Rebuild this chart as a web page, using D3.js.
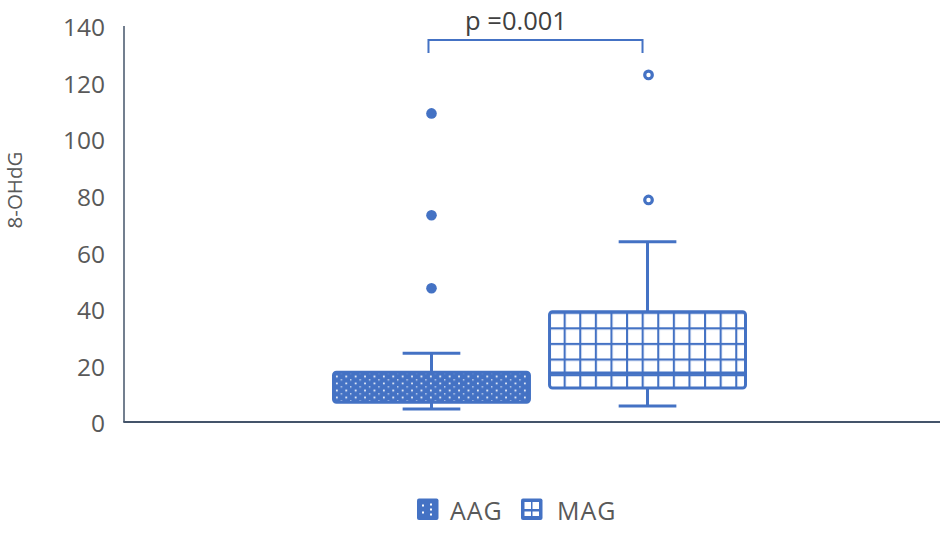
<!DOCTYPE html>
<html>
<head>
<meta charset="utf-8">
<script src="https://cdn.jsdelivr.net/npm/d3@7"></script>
<style>
  html, body { margin: 0; padding: 0; background: #fff; }
  svg { display: block; font-family: "Open Sans", "Noto Sans", sans-serif; }
</style>
</head>
<body>
<svg id="chart" width="945" height="535"></svg>
<script>
// ---- data ----
const categories = ["AAG", "MAG"];
const whiskerLow  = [4.6, 5.7];
const q1          = [7.0, 12.0];
const median      = [13.0, 17.3];
const q3          = [17.6, 39.0];
const whiskerHigh = [24.3, 63.7];
const outliers    = [[47.3, 73.1, 109.1], [78.5, 122.7]];
const yTicks      = [0, 20, 40, 60, 80, 100, 120, 140];
const yTitle      = "8-OHdG";
const pLabel      = "p =0.001";

// ---- layout ----
const W = 945, H = 535;
const blue = "#4472C4";
const axisColor = "#44546A";
const textColor = "#595959";

const svg = d3.select("#chart");
const defs = svg.append("defs");

const y = d3.scaleLinear().domain([0, 140]).range([422, 26]);
const x = d3.scaleBand().domain(categories).range([332, 747]).paddingInner(0.079).paddingOuter(0);
const bw = x.bandwidth();
const cx = c => x(c) + bw / 2;

// dotted pattern for AAG
const dots = defs.append("pattern").attr("id", "dots")
  .attr("patternUnits", "userSpaceOnUse").attr("width", 9.4).attr("height", 7)
  .attr("x", x("AAG") + 3).attr("y", y(q3[0]) + 2);
dots.append("rect").attr("width", 9.4).attr("height", 7).attr("fill", blue);
dots.append("rect").attr("x", 1).attr("y", 1.5).attr("width", 1.7).attr("height", 1.7).attr("fill", "#fff");
dots.append("rect").attr("x", 5.7).attr("y", 5).attr("width", 1.3).attr("height", 1.3).attr("fill", "#e8eefa");

// grid pattern for MAG
const gs = 15.6;
const grid = defs.append("pattern").attr("id", "grid")
  .attr("patternUnits", "userSpaceOnUse").attr("width", gs).attr("height", gs)
  .attr("x", x("MAG")).attr("y", y(q3[1]));
grid.append("rect").attr("width", gs).attr("height", gs).attr("fill", "#fff");
grid.append("path").attr("d", `M0,0H${gs}M0,0V${gs}`)
  .attr("stroke", blue).attr("stroke-width", 4.2).attr("fill", "none");

const patterns = ["url(#dots)", "url(#grid)"];

// ---- axes ----
svg.append("line").attr("x1", 124).attr("x2", 124).attr("y1", y(140)).attr("y2", y(0))
  .attr("stroke", axisColor).attr("stroke-width", 1.5);
svg.append("line").attr("x1", 123.3).attr("x2", 940).attr("y1", y(0)).attr("y2", y(0))
  .attr("stroke", axisColor).attr("stroke-width", 1.8);

const yAxis = d3.axisLeft(y).tickValues(yTicks).tickSize(0).tickPadding(0).tickFormat(d3.format("d"));
const yg = svg.append("g").attr("transform", "translate(105,2)").call(yAxis);
yg.select(".domain").remove();
yg.selectAll("text").attr("fill", textColor).attr("font-size", 24.5)
  .attr("font-family", "'Open Sans', 'Noto Sans', sans-serif");

svg.append("text").attr("transform", `translate(22,${190}) rotate(-90)`)
  .attr("text-anchor", "middle").attr("fill", textColor).attr("font-size", 20.5)
  .text(yTitle);

// ---- boxes ----
const g = svg.append("g");
categories.forEach((c, i) => {
  const xc = cx(c);
  const cap = bw * 0.145;
  // whiskers
  g.append("line").attr("x1", xc).attr("x2", xc).attr("y1", y(q3[i])).attr("y2", y(whiskerHigh[i]))
    .attr("stroke", blue).attr("stroke-width", 3);
  g.append("line").attr("x1", xc).attr("x2", xc).attr("y1", y(q1[i])).attr("y2", y(whiskerLow[i]))
    .attr("stroke", blue).attr("stroke-width", 3);
  g.append("line").attr("x1", xc - cap).attr("x2", xc + cap).attr("y1", y(whiskerHigh[i])).attr("y2", y(whiskerHigh[i]))
    .attr("stroke", blue).attr("stroke-width", 3);
  g.append("line").attr("x1", xc - cap).attr("x2", xc + cap).attr("y1", y(whiskerLow[i])).attr("y2", y(whiskerLow[i]))
    .attr("stroke", blue).attr("stroke-width", 3);
  // box
  g.append("rect").attr("x", x(c) + 1.5).attr("y", y(q3[i]))
    .attr("width", bw - 3).attr("height", y(q1[i]) - y(q3[i]))
    .attr("rx", 3).attr("fill", patterns[i]).attr("stroke", blue).attr("stroke-width", 3);
  // median
  g.append("line").attr("x1", x(c) + 1.5).attr("x2", x(c) + bw - 1.5)
    .attr("y1", y(median[i])).attr("y2", y(median[i]))
    .attr("stroke", blue).attr("stroke-width", i === 0 ? 1 : 3);
  // outliers
  outliers[i].forEach(v => {
    if (i === 0) {
      g.append("circle").attr("cx", xc).attr("cy", y(v)).attr("r", 5.3).attr("fill", blue);
    } else {
      g.append("circle").attr("cx", xc + 1).attr("cy", y(v)).attr("r", 3.8)
        .attr("fill", "#fff").attr("stroke", blue).attr("stroke-width", 3.2);
    }
  });
});

// ---- significance bracket ----
const bx1 = cx("AAG") - 3, bx2 = cx("MAG") - 5, by = 40, bt = 53;
svg.append("path").attr("d", `M${bx1},${bt}V${by}H${bx2}V${bt}`)
  .attr("fill", "none").attr("stroke", blue).attr("stroke-width", 2);
svg.append("text").attr("x", 516).attr("y", 30)
  .attr("text-anchor", "middle").attr("fill", "#404040").attr("font-size", 25.5)
  .text(pLabel);

// ---- legend ----
const legend = svg.append("g");
const legX = [417, 521];
categories.forEach((c, i) => {
  const lg = legend.append("g").attr("transform", `translate(${legX[i]},498.5)`);
  lg.append("rect").attr("width", 21.5).attr("height", 21.5).attr("rx", 2).attr("fill", blue);
  if (i === 0) {
    [[5, 6], [5, 13], [13, 5], [13, 10], [13, 15]].forEach(p =>
      lg.append("rect").attr("x", p[0]).attr("y", p[1]).attr("width", 2).attr("height", 2).attr("fill", "#fff"));
  } else {
    [[3.5, 3.5, 6.5, 7], [11.5, 3.5, 6.5, 7], [3.5, 13, 6.5, 4.5], [11.5, 13, 6.5, 4.5]].forEach(p =>
      lg.append("rect").attr("x", p[0]).attr("y", p[1]).attr("width", p[2]).attr("height", p[3]).attr("fill", "#fff"));
  }
  lg.append("text").attr("x", i === 0 ? 33 : 36).attr("y", 21).attr("fill", textColor).attr("font-size", 25)
    .attr("letter-spacing", 1).text(c);
});
</script>
</body>
</html>
